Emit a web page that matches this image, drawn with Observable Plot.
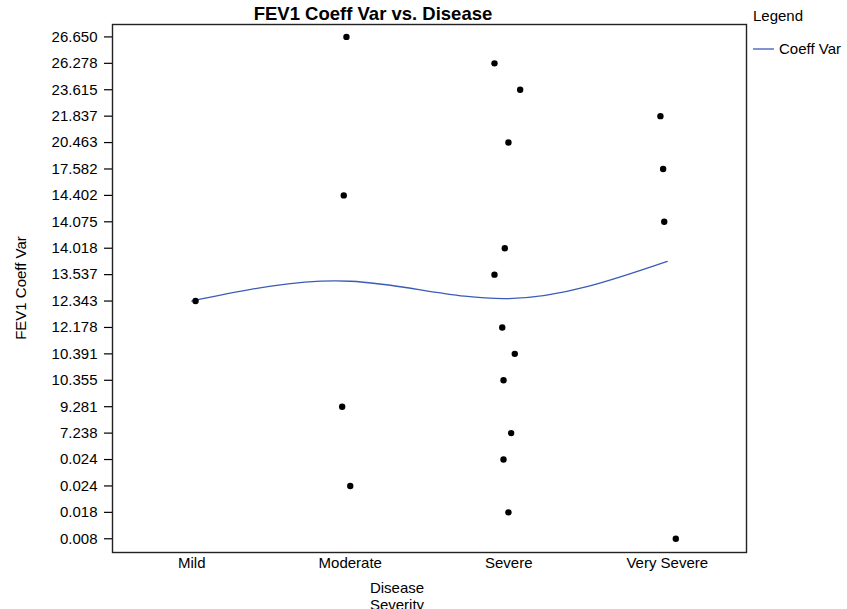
<!DOCTYPE html>
<html>
<head>
<meta charset="utf-8">
<script src="https://cdn.jsdelivr.net/npm/d3@7"></script>
<script src="https://cdn.jsdelivr.net/npm/@observablehq/plot@0.6"></script>
<style>
  html, body { margin: 0; padding: 0; background: #fff; }
  #chart { width: 847px; height: 609px; overflow: hidden; position: relative; }
  #chart svg { display: block; }
</style>
</head>
<body>
<div id="chart"></div>
<script>
// Disease severity groups along the x axis
const severityLevels = ["Mild", "Moderate", "Severe", "Very Severe"];

// FEV1 coefficient of variation values, one row per observation (top to bottom)
const coeffLabels = [
  "26.650", "26.278", "23.615", "21.837", "20.463", "17.582", "14.402",
  "14.075", "14.018", "13.537", "12.343", "12.178", "10.391", "10.355",
  "9.281", "7.238", "0.024", "0.024", "0.018", "0.008"
];

// Severity group for each row
const rowGroup = [
  "Moderate", "Severe", "Severe", "Very Severe", "Severe", "Very Severe", "Moderate",
  "Very Severe", "Severe", "Severe", "Mild", "Severe", "Severe", "Severe",
  "Moderate", "Severe", "Severe", "Moderate", "Severe", "Very Severe"
];

// Horizontal jitter of each point within its group (in group units)
const rowJitter = [
  -0.024, -0.090, 0.072, -0.043, -0.002, -0.026, -0.041,
  -0.019, -0.025, -0.090, 0.024, -0.041, 0.038, -0.033,
  -0.051, 0.015, -0.033, 0.000, -0.002, 0.054
];

const points = coeffLabels.map((label, i) => ({
  row: i,
  label,
  group: rowGroup[i],
  x: severityLevels.indexOf(rowGroup[i]) + rowJitter[i]
}));

// Group means of the row positions, joined by a smooth curve
const groupMeans = severityLevels.map((g, i) => ({
  x: i,
  row: d3.mean(points.filter(p => p.group === g), p => p.row)
}));

const lineColor = "#3a5cb6";
const font = "'Liberation Sans', Arial, Helvetica, sans-serif";

const chart = Plot.plot({
  width: 847,
  height: 609,
  marginLeft: 112,
  marginRight: 101,
  marginTop: 24,
  marginBottom: 57,
  style: { fontFamily: font, fontSize: "15px", color: "#000", background: "#fff" },
  x: { domain: [-0.5, 3.5] },
  y: { domain: [-0.47, 19.52], reverse: true },
  marks: [
    Plot.axisY(d3.range(coeffLabels.length), {
      anchor: "left",
      tickFormat: i => coeffLabels[i],
      tickSize: 8,
      tickPadding: 7,
      fontSize: 15,
      strokeWidth: 1.2,
      label: null
    }),
    Plot.axisX(d3.range(severityLevels.length), {
      anchor: "bottom",
      tickFormat: i => severityLevels[i],
      tickSize: 0,
      tickPadding: 5,
      fontSize: 15,
      label: null
    }),
    Plot.line(groupMeans, { x: "x", y: "row", curve: "natural", stroke: lineColor, strokeWidth: 1.3 }),
    Plot.dot(points, { x: "x", y: "row", r: 3.2, fill: "#000", stroke: null }),
    Plot.frame({ stroke: "#222", strokeWidth: 1.4 })
  ]
});

const svg = d3.select(chart);

function addText(x, y, str, opts = {}) {
  return svg.append("text")
    .attr("x", x).attr("y", y)
    .attr("text-anchor", opts.anchor || "start")
    .attr("transform", opts.transform || null)
    .style("font-family", font)
    .style("font-size", (opts.size || 15) + "px")
    .style("font-weight", opts.weight || "normal")
    .attr("fill", "#000")
    .text(str);
}

// Title
addText(373, 20, "FEV1 Coeff Var vs. Disease", { anchor: "middle", size: 18.5, weight: "bold" });

// Y axis title
addText(0, 0, "FEV1 Coeff Var", { anchor: "middle", transform: "translate(26,288) rotate(-90)" });

// X axis title, wrapped onto two lines
addText(397, 593, "Disease", { anchor: "middle" });
addText(397, 610, "Severity", { anchor: "middle" });

// Legend
addText(753, 21, "Legend");
svg.append("line")
  .attr("x1", 753).attr("x2", 774).attr("y1", 49).attr("y2", 49)
  .attr("stroke", lineColor).attr("stroke-width", 1.3);
addText(779, 54, "Coeff Var");

document.getElementById("chart").appendChild(chart);
</script>
</body>
</html>
